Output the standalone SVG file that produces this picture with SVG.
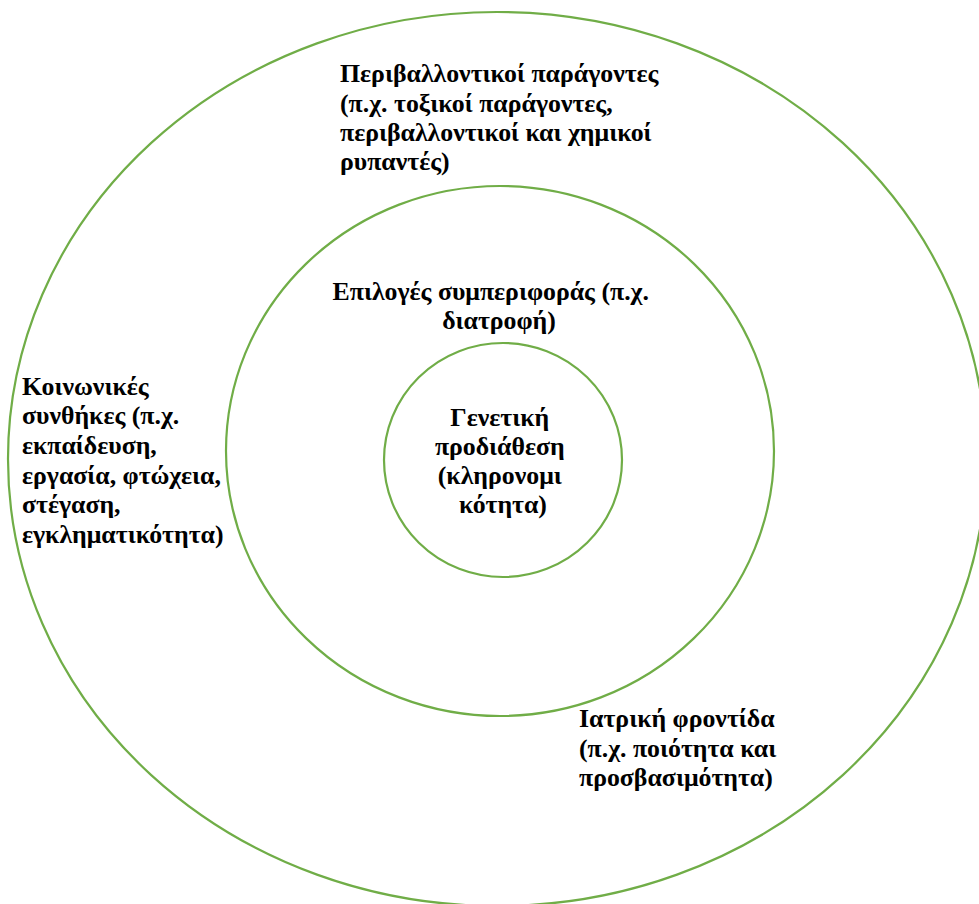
<svg xmlns="http://www.w3.org/2000/svg" width="979" height="904" viewBox="0 0 979 904">
  <style>
    .ring { fill: none; stroke: #70AD47; stroke-width: 2.2; }
    .lbl { font-family: "Liberation Serif", "Times New Roman", serif; font-weight: bold; font-size: 25.8px; fill: #000; }
    .mid { text-anchor: middle; }
  </style>
  <rect width="979" height="904" fill="#fff"/>

  <!-- outer ring: environment, social conditions, health care -->
  <g id="outer">
    <ellipse class="ring" cx="497" cy="459" rx="489" ry="447"/>
    <text class="lbl">
      <tspan x="340" y="82">Περιβαλλοντικοί παράγοντες</tspan>
      <tspan x="340" y="112">(π.χ. τοξικοί παράγοντες,</tspan>
      <tspan x="340" y="141">περιβαλλοντικοί και χημικοί</tspan>
      <tspan x="340" y="170">ρυπαντές)</tspan>
    </text>
    <text class="lbl">
      <tspan x="22" y="395">Κοινωνικές</tspan>
      <tspan x="22" y="424">συνθήκες (π.χ.</tspan>
      <tspan x="22" y="454">εκπαίδευση,</tspan>
      <tspan x="22" y="484">εργασία, φτώχεια,</tspan>
      <tspan x="22" y="513">στέγαση,</tspan>
      <tspan x="22" y="543">εγκληματικότητα)</tspan>
    </text>
    <text class="lbl">
      <tspan x="579" y="727">Ιατρική φροντίδα</tspan>
      <tspan x="579" y="757">(π.χ. ποιότητα και</tspan>
      <tspan x="579" y="786">προσβασιμότητα)</tspan>
    </text>
  </g>

  <!-- middle ring: behaviour -->
  <g id="middle">
    <ellipse class="ring" cx="500" cy="451" rx="274" ry="265"/>
    <text class="lbl mid">
      <tspan x="494" y="300">Επιλογές συμπεριφοράς (π.χ.</tspan>
      <tspan x="499" y="329">διατροφή)</tspan>
    </text>
  </g>

  <!-- inner ring: genetics -->
  <g id="inner">
    <ellipse class="ring" cx="503" cy="460" rx="119" ry="117"/>
    <text class="lbl mid">
      <tspan x="503" y="426">Γενετική</tspan>
      <tspan x="503" y="455">προδιάθεση</tspan>
      <tspan x="503" y="484">(κληρονομι</tspan>
      <tspan x="503" y="513">κότητα)</tspan>
    </text>
  </g>

  <g id="connectors"/>
</svg>
